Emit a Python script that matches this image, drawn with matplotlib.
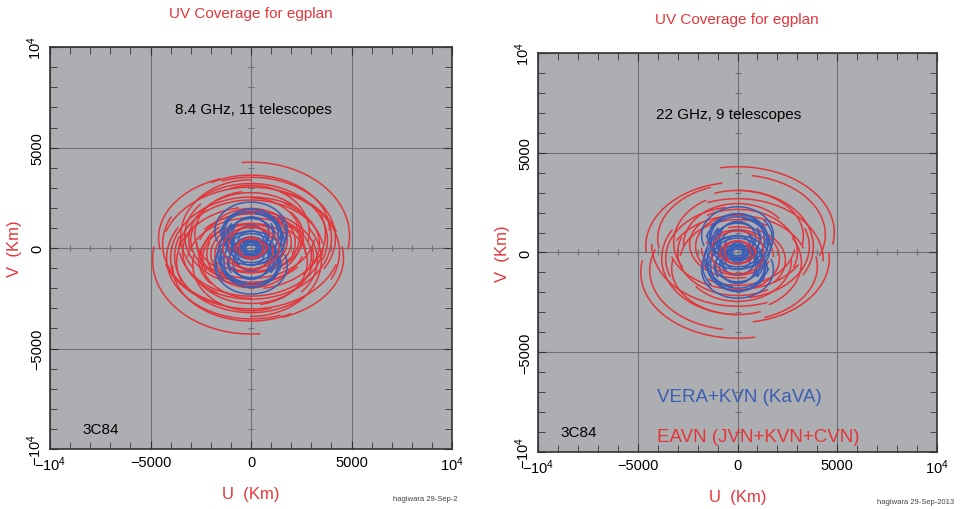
import numpy as np
import matplotlib.pyplot as plt

plt.rcParams['font.family'] = ['Liberation Sans', 'DejaVu Sans']
plt.rcParams['mathtext.fontset'] = 'custom'
plt.rcParams['mathtext.rm'] = 'Liberation Sans'

RED = '#e3363b'
BLUE = '#3b5db4'
BG = '#adaeb1'

# uv tracks: semi-axis in u (km), v/u axis ratio, v offset (km), start/end angle (deg)
# left panel, 8.4 GHz, EAVN (red)
left_red_a = [4900, 4500, 4200, 4000, 3800, 3600, 3500, 3300, 3100, 3000, 2800, 2700, 2500, 2400, 2200, 2000, 1800, 1600,
              4600, 4400, 3900, 3700, 3400, 3200, 2900, 2600]
left_red_r = [0.75, 0.74, 0.72, 0.76, 0.74, 0.72, 0.80, 0.74, 0.76, 0.70, 0.76, 0.74, 0.80, 0.72, 0.76, 0.74, 0.80, 0.76,
              0.68, 0.72, 0.70, 0.74, 0.68, 0.72, 0.80, 0.70]
left_red_c = [600, -300, 500, -500, 400, -200, 600, -600, 400, -400, 700, -250, 500, -500, 300, -300, 350, 0,
              500, -200, 900, -700, 200, -800, 800, -600]
left_red_t0 = [-10, 20, -30, 60, -20, 10, 90, -40, 30, -15, 100, 0, -50, 40, -20, 60, -30, 20,
               110, -25, 0, 100, -40, 50, -10, 120]
left_red_t1 = [95, 160, 110, 200, 130, 175, 215, 100, 190, 140, 230, 160, 90, 200, 150, 230, 120, 190,
               190, 70, 120, 200, 60, 170, 110, 220]

# short EAVN baselines drawn over KaVA
left_inner_a = [1400, 1100, 800, 600]
left_inner_r = [0.75, 0.80, 0.70, 0.80]
left_inner_c = [0, 150, -100, 50]
left_inner_t0 = [-20, 20, 0, 30]
left_inner_t1 = [160, 200, 180, 210]

# right panel, 22 GHz, EAVN (red)
right_red_a = [4850, 4600, 4300, 4000, 3800, 3500, 3200, 3000, 2700, 2400, 2100, 1800, 4400, 3600, 3300, 2900]
right_red_r = [0.68, 0.70, 0.72, 0.68, 0.74, 0.70, 0.76, 0.72, 0.76, 0.70, 0.76, 0.74, 0.68, 0.72, 0.70, 0.74]
right_red_c = [1000, 300, -400, 700, 300, -600, 500, 0, 400, -400, 300, -200, 900, -300, 800, -500]
right_red_t0 = [-10, 100, 0, 110, -30, 20, 120, -20, 40, -40, 100, 0, -20, 100, -10, 60]
right_red_t1 = [100, 185, 110, 190, 90, 150, 210, 120, 180, 100, 220, 150, 80, 200, 110, 170]

right_inner_a = [1300, 900, 650]
right_inner_r = [0.75, 0.75, 0.80]
right_inner_c = [100, -100, 50]
right_inner_t0 = [-10, 10, 30]
right_inner_t1 = [170, 190, 220]

# VERA+KVN (KaVA), blue
kava_a = [1800, 1750, 1550, 1500, 1400, 1300, 1200, 1100, 1000, 950, 850, 750, 650, 520, 400, 300,
          1650, 1500, 1350, 1150, 900]
kava_r = [0.80, 0.85, 0.90, 0.80, 0.85, 0.90, 0.85, 0.95, 0.85, 0.90, 0.85, 0.95, 0.85, 0.90, 0.85, 0.85,
          0.90, 0.85, 0.95, 0.80, 0.95]
kava_c = [850, -650, 550, -850, 750, -450, 450, -650, 650, -300, 400, -400, 300, -200, 150, -80,
          300, -450, 650, -750, 700]
kava_t0 = [-20, 30, -60, 0, 60, -40, 10, -30, 40, -20, 0, 30, -30, 0, 20, 0,
           -40, 90, -10, 20, -30]
kava_t1 = [200, 220, 150, 180, 250, 170, 200, 190, 230, 180, 200, 220, 170, 200, 220, 180,
           160, 260, 200, 210, 180]


def draw_tracks(ax, a, r, c, t0, t1, color):
    for ai, ri, ci, s, e in zip(a, r, c, t0, t1):
        t = np.radians(np.linspace(s, e, 120))
        u = ai * np.cos(t)
        v = ci + ai * ri * np.sin(t)
        ax.plot(u, v, color=color, lw=1.1)
        ax.plot(-u, -v, color=color, lw=1.1)


def setup(ax):
    ax.set_facecolor(BG)
    ax.set_xlim(-10000, 10000)
    ax.set_ylim(-10000, 10000)
    ticks = [-10000, -5000, 0, 5000, 10000]
    labels = [r'$\mathregular{-10^4}$', '\u22125000', '0', '5000', r'$\mathregular{10^4}$']
    ax.set_xticks(ticks)
    ax.set_xticklabels(labels)
    ax.set_yticks(ticks)
    ax.set_yticklabels(labels, rotation=90, va='center')
    ax.set_xticks(np.arange(-9000, 10000, 1000), minor=True)
    ax.set_yticks(np.arange(-9000, 10000, 1000), minor=True)
    ax.tick_params(which='both', direction='in', top=True, right=True, colors='#333333',
                   labelcolor='black', labelsize=10.5)
    ax.tick_params(which='major', length=6, pad=4)
    ax.tick_params(which='minor', length=5)
    ax.grid(True, which='major', color='#707174', lw=0.8)
    for sp in ax.spines.values():
        sp.set_color('#333333')
        sp.set_linewidth(1.2)
    # small ticks along the centre lines
    mt = np.arange(-9000, 10000, 1000)
    ax.plot(mt, np.zeros_like(mt), ls='none', marker='|', ms=5, color='#707174', mew=0.8)
    ax.plot(np.zeros_like(mt), mt, ls='none', marker='_', ms=5, color='#707174', mew=0.8)
    ax.set_xlabel('U  (Km)', color=RED, fontsize=12)
    ax.set_ylabel('V  (Km)', color=RED, fontsize=12)
    ax.xaxis.set_label_coords(0.5, -0.092)
    ax.yaxis.set_label_coords(-0.07, 0.5)


fig = plt.figure(figsize=(9.68, 5.10), dpi=100)
ax1 = fig.add_axes([0.0517, 0.1176, 0.4153, 0.788])
ax2 = fig.add_axes([0.5558, 0.1118, 0.4122, 0.7824])

setup(ax1)
draw_tracks(ax1, left_red_a, left_red_r, left_red_c, left_red_t0, left_red_t1, RED)
draw_tracks(ax1, kava_a, kava_r, kava_c, kava_t0, kava_t1, BLUE)
draw_tracks(ax1, left_inner_a, left_inner_r, left_inner_c, left_inner_t0, left_inner_t1, RED)
ax1.text(0.311, 0.846, '8.4 GHz, 11 telescopes', transform=ax1.transAxes, fontsize=11, va='center')
ax1.text(0.08, 0.05, '3C84', transform=ax1.transAxes, fontsize=11, va='center')

setup(ax2)
draw_tracks(ax2, right_red_a, right_red_r, right_red_c, right_red_t0, right_red_t1, RED)
draw_tracks(ax2, kava_a, kava_r, kava_c, kava_t0, kava_t1, BLUE)
draw_tracks(ax2, right_inner_a, right_inner_r, right_inner_c, right_inner_t0, right_inner_t1, RED)
ax2.text(0.296, 0.847, '22 GHz, 9 telescopes', transform=ax2.transAxes, fontsize=11, va='center')
ax2.text(0.055, 0.05, '3C84', transform=ax2.transAxes, fontsize=11, va='center')
ax2.text(0.298, 0.138, 'VERA+KVN (KaVA)', transform=ax2.transAxes, fontsize=13.5, color=BLUE, va='center')
ax2.text(0.298, 0.04, 'EAVN (JVN+KVN+CVN)', transform=ax2.transAxes, fontsize=13.5, color=RED, va='center')

fig.text(251 / 968, 1 - 14 / 510, 'UV Coverage for egplan', fontsize=11, color=RED, ha='center', va='center')
fig.text(737 / 968, 1 - 20 / 510, 'UV Coverage for egplan', fontsize=11, color=RED, ha='center', va='center')
fig.text(393 / 968, 1 - 500 / 510, 'hagiwara 29-Sep-2', fontsize=5.5, color='#444444', va='center')
fig.text(877 / 968, 1 - 503 / 510, 'hagiwara 29-Sep-2013', fontsize=5.5, color='#444444', va='center')

fig.savefig('out.png', dpi=100)
